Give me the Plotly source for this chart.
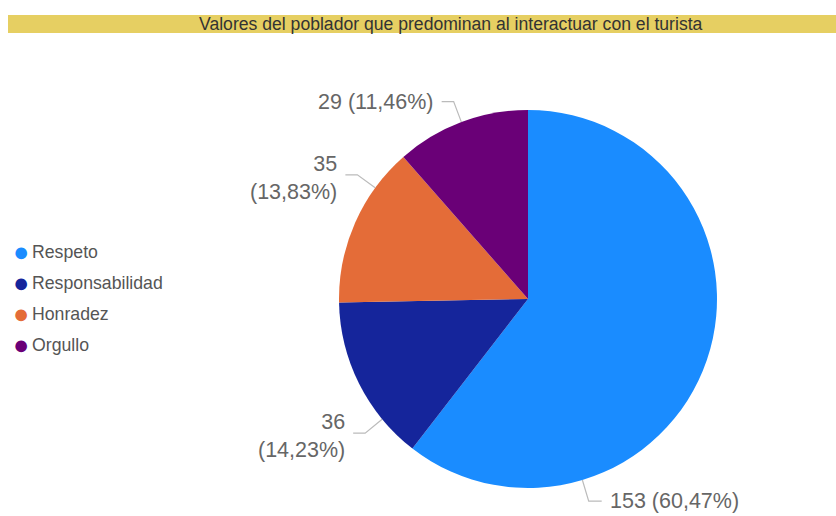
import math
import plotly.graph_objects as go

# ---- data ----
title_text = "Valores del poblador que predominan al interactuar con el turista"
categories = ["Respeto", "Responsabilidad", "Honradez", "Orgullo"]
values = [153, 36, 35, 29]

# ---- style ----
colors = ["#1a8cff", "#15259b", "#e46c38", "#6a0077"]
label_anchor_frac = [0.75, 0.25, 0.745, 0.5]   # where along each slice the leader line starts
W, H = 836, 516
CX, CY, R = 528, 299, 189                       # pie centre / radius in px
label_color = "#666666"
font_family = "Arial, Liberation Sans, sans-serif"

def px_x(x):
    return x / W

def px_y(y):
    return 1 - y / H

fig = go.Figure()
fig.add_trace(go.Pie(
    labels=categories, values=values, sort=False, direction="clockwise", rotation=0,
    marker=dict(colors=colors, line=dict(width=0)),
    textinfo="none", hoverinfo="label+value+percent", showlegend=False,
    domain=dict(x=[px_x(CX - R), px_x(CX + R)], y=[px_y(CY + R), px_y(CY - R)]),
))

total = sum(values)
shapes = [dict(type="rect", xref="paper", yref="paper",
               x0=px_x(8), x1=1, y0=px_y(33), y1=px_y(15),
               fillcolor="#e6cf62", line=dict(width=0), layer="below")]
annotations = [dict(text=title_text, xref="paper", yref="paper",
                    x=px_x(451), y=px_y(24), xanchor="center", yanchor="middle",
                    showarrow=False,
                    font=dict(size=17.6, color="#333333", family=font_family))]

# legend rows (dot + text)
for i, (cat, col) in enumerate(zip(categories, colors)):
    ly = 252 + 31 * i
    annotations.append(dict(text="●", xref="paper", yref="paper",
                            x=px_x(21), y=px_y(ly), xanchor="center", yanchor="middle",
                            showarrow=False, font=dict(size=27, color=col, family=font_family)))
    annotations.append(dict(text=cat, xref="paper", yref="paper",
                            x=px_x(30), y=px_y(ly), xanchor="left", yanchor="middle",
                            showarrow=False, font=dict(size=17.7, color="#555555", family=font_family)))

cum = 0.0
for cat, v, frac in zip(categories, values, label_anchor_frac):
    share = v / total
    ang = (cum + share * frac) * 2 * math.pi
    cum += share
    sx, sy = CX + R * math.sin(ang), CY - R * math.cos(ang)
    ex, ey = CX + (R + 22) * math.sin(ang), CY - (R + 22) * math.cos(ang)
    right = math.sin(ang) >= 0
    hx = ex + (13 if right else -12)
    pct = f"{share * 100:.2f}".replace(".", ",")
    wrap = (not right) and abs(ex - CX) > 0.6 * R
    txt = f"{v}<br>({pct}%)" if wrap else f"{v} ({pct}%)"
    shapes.append(dict(type="path", xref="paper", yref="paper",
                       path=f"M {px_x(sx)},{px_y(sy)} L {px_x(ex)},{px_y(ey)} L {px_x(hx)},{px_y(ey)}",
                       line=dict(color="#bbbbbb", width=1.2)))
    tx = hx + (6 if right else -6)
    annotations.append(dict(text=txt, xref="paper", yref="paper",
                            x=px_x(tx), y=px_y(ey + (3 if wrap else 0)),
                            xanchor="left" if right else "right", yanchor="middle",
                            align="left" if right else "right",
                            showarrow=False,
                            font=dict(size=21.5, color=label_color, family=font_family)))

fig.update_layout(
    width=W, height=H, margin=dict(l=0, r=0, t=0, b=0),
    paper_bgcolor="white", plot_bgcolor="white",
    showlegend=False,
    shapes=shapes, annotations=annotations,
)

fig.write_html("out.html", config={"displayModeBar": False},
               post_script="document.body.style.margin='0px';")
